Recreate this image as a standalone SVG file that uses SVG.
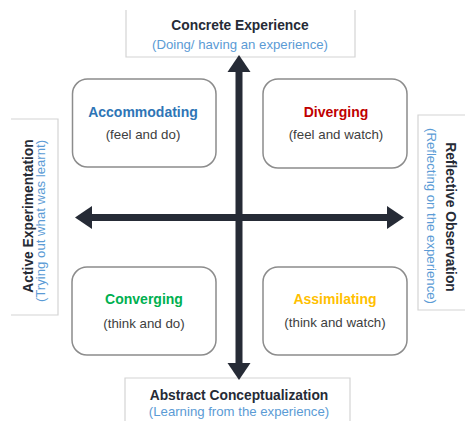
<svg xmlns="http://www.w3.org/2000/svg" width="465" height="421" viewBox="0 0 465 421">
<style>
.lbl{fill:#fff;stroke:none}
.edge{fill:none;stroke:#d4d4d4;stroke-width:1.2}
.quad{fill:#fff;stroke:#8c8c8c;stroke-width:1.5}
.t{font-family:"Liberation Sans",Arial,sans-serif;text-anchor:middle}
.h{font-weight:bold;font-size:13.8px;fill:#262b36}
.s{font-size:13.2px;fill:#5b9bd5}
.qh{font-weight:bold;font-size:14px}
.qs{font-size:13.3px;fill:#404040}
.ax{stroke:#262b36;stroke-width:7;fill:none}
.hd{fill:#262b36}
</style>
<rect width="465" height="421" fill="#fff"/>
<g id="concrete">
<rect class="lbl" x="126" y="10" width="229" height="47"/>
<path class="edge" d="M126,10 V57 H355 V10"/>
<text class="t h" x="240" y="30">Concrete Experience</text>
<text class="t s" x="240" y="49">(Doing/ having an experience)</text>
</g>
<g id="active">
<rect class="lbl" x="11" y="119" width="47" height="196"/>
<path class="edge" d="M11,119 H58 V315 H11"/>
<text class="t h" transform="translate(33,216) rotate(-90)">Active Experimentation</text>
<text class="t s" transform="translate(45,221) rotate(-90)">(Trying out what was learnt)</text>
</g>
<g id="reflective">
<rect class="lbl" x="418" y="115" width="50" height="195"/>
<path class="edge" d="M466,115 H418 V310 H466"/>
<text class="t h" transform="translate(446,217) rotate(90)">Reflective Observation</text>
<text class="t s" transform="translate(427,216) rotate(90)">(Reflecting on the experience)</text>
</g>
<g id="abstract">
<rect class="lbl" x="125" y="378" width="225" height="45"/>
<path class="edge" d="M125,422 V378 H350 V422"/>
<text class="t h" x="239" y="400">Abstract Conceptualization</text>
<text class="t s" x="239" y="416">(Learning from the experience)</text>
</g>
<g id="accommodating">
<rect class="quad" x="72.5" y="79" width="143.5" height="88" rx="15"/>
<text class="t qh" x="143" y="117" fill="#2e75b6">Accommodating</text>
<text class="t qs" x="143" y="139">(feel and do)</text>
</g>
<g id="diverging">
<rect class="quad" x="263" y="79" width="144" height="89" rx="15"/>
<text class="t qh" x="336" y="117" fill="#c00000">Diverging</text>
<text class="t qs" x="336" y="139">(feel and watch)</text>
</g>
<g id="converging">
<rect class="quad" x="72" y="267" width="144" height="88" rx="15"/>
<text class="t qh" x="144" y="304" fill="#00b050">Converging</text>
<text class="t qs" x="144" y="328">(think and do)</text>
</g>
<g id="assimilating">
<rect class="quad" x="263" y="267" width="144" height="88" rx="15"/>
<text class="t qh" x="335" y="304" fill="#ffc000">Assimilating</text>
<text class="t qs" x="335" y="327">(think and watch)</text>
</g>
<g id="connectors">
<line class="ax" x1="239" y1="70" x2="239" y2="366"/>
<line class="ax" x1="90" y1="217.5" x2="389" y2="217.5"/>
<polygon class="hd" points="239,55 227.5,72 250.5,72"/>
<polygon class="hd" points="239,380 227.5,363 250.5,363"/>
<polygon class="hd" points="75,217.5 92,206 92,229"/>
<polygon class="hd" points="404,217.5 387,206 387,229"/>
</g>
</svg>
